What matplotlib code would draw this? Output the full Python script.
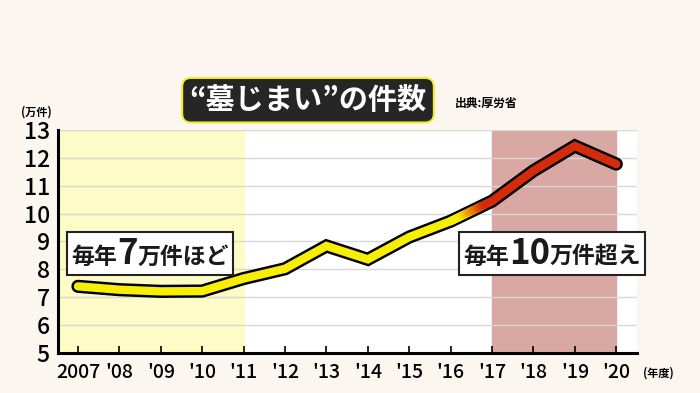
import numpy as np
import matplotlib
matplotlib.use("Agg")
import matplotlib.pyplot as plt
from matplotlib.collections import LineCollection
from matplotlib.colors import LinearSegmentedColormap
from matplotlib.offsetbox import TextArea, HPacker, AnnotationBbox

plt.rcParams['font.family'] = ['Noto Sans CJK JP', 'DejaVu Sans']
plt.rcParams['font.weight'] = 'bold'

# data: number of grave relocations (10,000 cases)
years = [2007, 2008, 2009, 2010, 2011, 2012, 2013, 2014, 2015, 2016, 2017, 2018, 2019, 2020]
values = [7.39, 7.27, 7.21, 7.22, 7.67, 8.02, 8.84, 8.36, 9.16, 9.73, 10.45, 11.54, 12.43, 11.78]
tick_labels = ['2007', "'08", "'09", "'10", "'11", "'12", "'13", "'14", "'15", "'16",
               "'17", "'18", "'19", "'20"]
yticks = [5, 6, 7, 8, 9, 10, 11, 12, 13]

YELLOW = '#f7ee05'
RED = '#d62a0c'

fig = plt.figure(figsize=(7, 3.93), dpi=100)
fig.patch.set_facecolor('#fbf7f0')
ax = fig.add_axes([0.083, 0.102, 0.827, 0.567])
ax.set_facecolor('white')

ax.set_xlim(2006.52, 2020.5)
ax.set_ylim(5, 13)

# shaded periods
ax.axvspan(2006.52, 2011, color='#fdfbc6', zorder=0)
ax.axvspan(2017, 2020, color='#d9a8a3', zorder=0)

ax.set_yticks(yticks)
ax.grid(axis='y', color='#d8d8d8', lw=1, zorder=1)
ax.set_axisbelow(True)

# black outline
ax.plot(years, values, color='black', lw=9.5, solid_capstyle='round',
        solid_joinstyle='miter', zorder=3)

# yellow part, gradient, red part
x = np.array(years, dtype=float)
y = np.array(values)
i16 = years.index(2016)
ax.plot(x[:i16 + 1], y[:i16 + 1], color=YELLOW, lw=6, solid_capstyle='round',
        solid_joinstyle='miter', zorder=4)
ax.plot(x[i16 + 1:], y[i16 + 1:], color=RED, lw=6, solid_capstyle='round',
        solid_joinstyle='miter', zorder=4)
gx = np.linspace(x[i16], x[i16 + 1], 40)
gy = np.linspace(y[i16], y[i16 + 1], 40)
segs = np.stack([np.column_stack([gx[:-1], gy[:-1]]), np.column_stack([gx[1:], gy[1:]])], axis=1)
cmap = LinearSegmentedColormap.from_list('yr', [(0, YELLOW), (0.25, YELLOW), (0.5, '#ef9a06'), (0.85, RED), (1, RED)])
lc = LineCollection(segs, cmap=cmap, lw=6, capstyle='round', zorder=5)
lc.set_array(np.linspace(0, 1, len(segs)))
ax.add_collection(lc)

# axes styling
for s in ['top', 'right']:
    ax.spines[s].set_visible(False)
ax.spines['left'].set_linewidth(2.2)
ax.spines['bottom'].set_linewidth(2.2)
ax.set_xticks(years)
ax.set_xticklabels(tick_labels)
ax.tick_params(axis='x', direction='in', length=5, width=1.2, labelsize=14, pad=7)
ax.tick_params(axis='y', length=0, labelsize=16.5, pad=6)
for lab in ax.get_xticklabels() + ax.get_yticklabels():
    lab.set_fontweight('medium')

fig.text(0.03, 0.715, '(万件)', fontsize=8, ha='left', va='center')
fig.text(0.918, 0.05, '(年度)', fontsize=8, ha='left', va='center')

# title
fig.text(0.44, 0.745, '“墓じまい”の件数', fontsize=21, color='white', ha='center', va='center',
         bbox=dict(boxstyle='round,pad=0.25,rounding_size=0.3', fc='#262626', ec='#f2ec2a', lw=1.5))
fig.text(0.65, 0.738, '出典:厚労省', fontsize=8.5, ha='left', va='center')


def callout(parts, xy):
    boxes = [TextArea(t, textprops=dict(fontsize=fs, fontweight='bold', color='#1a1a1a'))
             for t, fs in parts]
    pack = HPacker(children=boxes, align='baseline', pad=0, sep=0)
    ab = AnnotationBbox(pack, xy, xycoords='data', frameon=True, box_alignment=(0.5, 0.5),
                        pad=0.3, bboxprops=dict(boxstyle='square', fc='white', ec='#222222', lw=1.5),
                        zorder=6)
    ax.add_artist(ab)


callout([('毎年', 16.5), ('7', 25), ('万件ほど', 16.5)], (2008.74, 8.58))
callout([('毎年', 16.5), ('10', 25), ('万件超え', 16.5)], (2018.45, 8.58))

fig.savefig('out.png', dpi=100, facecolor=fig.get_facecolor())
